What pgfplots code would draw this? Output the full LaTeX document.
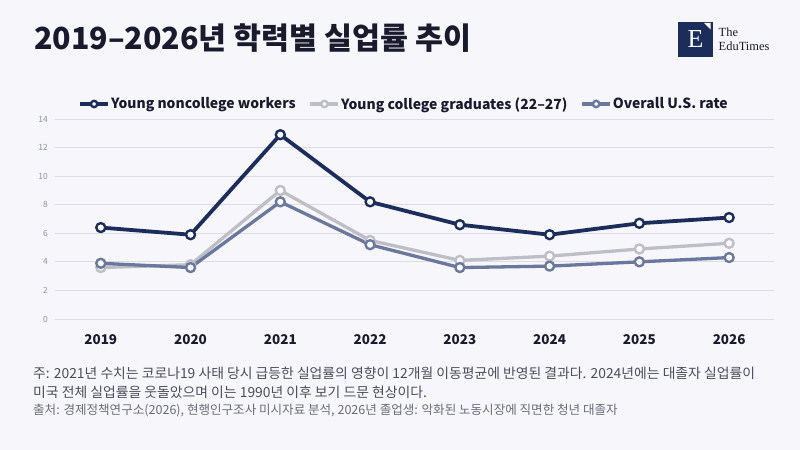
\documentclass[border=0pt]{standalone}
\usepackage{pgfplots}
\pgfplotsset{compat=1.18}
\usepackage{fontspec}
\setmainfont{Noto Sans CJK KR}
\newfontfamily\seriffont{Liberation Serif}
\definecolor{bg}{HTML}{F7F7FB}
\definecolor{navy}{HTML}{1B2D5B}
\definecolor{lgrey}{HTML}{BEBEC6}
\definecolor{slate}{HTML}{6A789E}
\definecolor{gridc}{HTML}{DCDDE4}
\definecolor{ticklab}{HTML}{8C92A4}
\definecolor{titlec}{HTML}{1A1A2E}
\definecolor{notec}{HTML}{4A4D5A}
\definecolor{srcc}{HTML}{6A6D78}
\begin{document}
\begin{tikzpicture}[x=1bp,y=1bp]
\useasboundingbox (0,0) rectangle (800,450);
\fill[bg] (0,0) rectangle (800,450);
\node[anchor=west, font=\fontsize{30.5}{34}\selectfont\bfseries, text=titlec, inner sep=0] at (34,412) {2019–2026년 학력별 실업률 추이};
% logo
\fill[navy] (678,393) rectangle (713,428);
\node[font=\seriffont\fontsize{26}{26}\selectfont, text=white, inner sep=0] at (695.5,410.5) {E};
\fill[white] (704,427) -- (710.5,427) -- (710.5,420.5) -- cycle;
\node[anchor=west, font=\seriffont\fontsize{12.5}{14}\selectfont, text=titlec, inner sep=0, align=left] at (718.5,410.5) {The\\EduTimes};
% footer
\node[anchor=west, font=\fontsize{13.9}{15}\selectfont, text=notec, inner sep=0] at (33,77) {주: 2021년 수치는 코로나19 사태 당시 급등한 실업률의 영향이 12개월 이동평균에 반영된 결과다. 2024년에는 대졸자 실업률이};
\node[anchor=west, font=\fontsize{13.9}{15}\selectfont, text=notec, inner sep=0] at (33,58) {미국 전체 실업률을 웃돌았으며 이는 1990년 이후 보기 드문 현상이다.};
\node[anchor=west, font=\fontsize{12.6}{14}\selectfont, text=srcc, inner sep=0] at (33,39) {출처: 경제정책연구소(2026), 현행인구조사  미시자료 분석, 2026년 졸업생: 악화된 노동시장에 직면한 청년 대졸자};
\begin{axis}[
  at={(55bp,131bp)}, anchor=south west, scale only axis,
  width=719bp, height=200bp,
  xmin=-0.51, xmax=7.5, ymin=0, ymax=14,
  xtick={0,1,2,3,4,5,6,7},
  xticklabels={2019,2020,2021,2022,2023,2024,2025,2026},
  ytick={0,2,4,6,8,10,12,14},
  axis line style={draw=none}, tick style={draw=none},
  ymajorgrids, grid style={gridc, line width=0.8bp},
  /pgf/number format/assume math mode=true,
  yticklabel style={font=\fontsize{8.5}{9}\selectfont, text=ticklab, anchor=east, inner sep=0pt, xshift=-7bp},
  xticklabel style={font=\fontsize{13.5}{15}\selectfont\bfseries, text=titlec, anchor=center, yshift=-21bp},
  legend columns=3,
  legend style={at={(0.032,1.075)}, anchor=west, draw=none, fill=none, inner sep=0pt,
    font=\fontsize{14}{16}\selectfont\bfseries, text=titlec,
    /tikz/every even column/.append style={column sep=12bp},
    nodes={inner sep=1bp}},
  legend image code/.code={\draw[mark repeat=2,mark phase=2,#1,mark size=3.2bp] plot coordinates {(0bp,0bp)(14bp,0bp)(28bp,0bp)};},
  line join=round, line cap=round,
]
\addplot[navy, line width=3.8bp, mark=*, mark size=4.5bp, mark options={fill=white, line width=2.4bp}]
  coordinates {(0,6.4)(1,5.9)(2,12.9)(3,8.2)(4,6.6)(5,5.9)(6,6.7)(7,7.1)};
\addlegendentry{Young noncollege workers}
\addplot[lgrey, line width=3.3bp, mark=*, mark size=4.5bp, mark options={fill=white, line width=2.4bp}]
  coordinates {(0,3.6)(1,3.8)(2,9.0)(3,5.5)(4,4.1)(5,4.4)(6,4.9)(7,5.3)};
\addlegendentry{Young college graduates (22–27)}
\addplot[slate, line width=3.3bp, mark=*, mark size=4.5bp, mark options={fill=white, line width=2.4bp}]
  coordinates {(0,3.9)(1,3.6)(2,8.2)(3,5.2)(4,3.6)(5,3.7)(6,4.0)(7,4.3)};
\addlegendentry{Overall U.S. rate}
\end{axis}
\end{tikzpicture}
\end{document}
